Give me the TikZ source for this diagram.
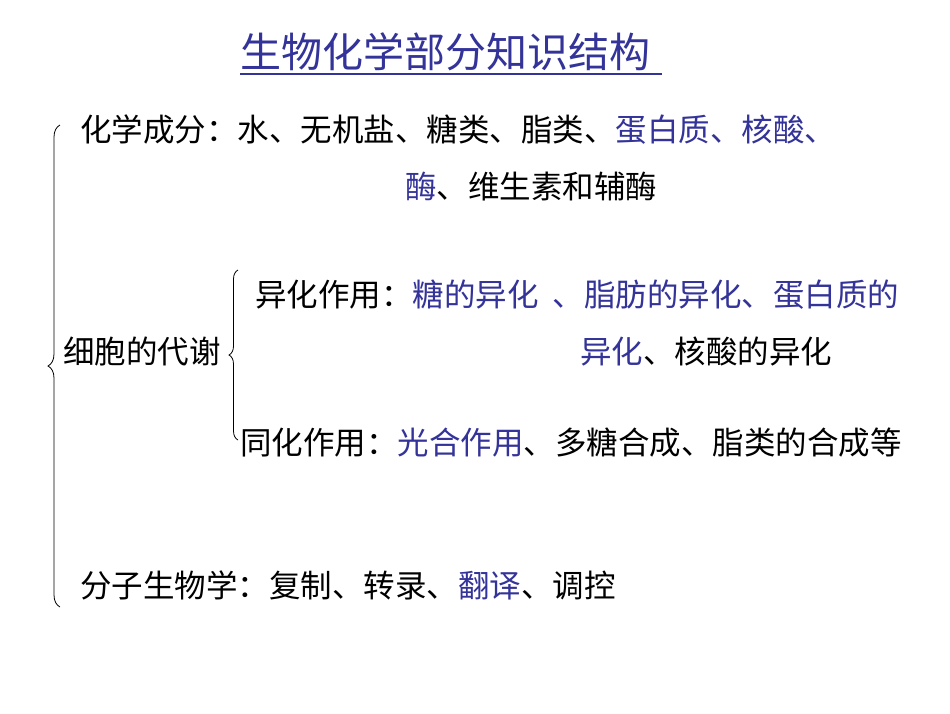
\documentclass[tikz,border=0pt]{standalone}
\usepackage{fontspec}
\newfontfamily\cjk{Noto Sans CJK SC}
\usetikzlibrary{decorations.pathreplacing}
\definecolor{bl}{RGB}{51,51,153}
\begin{document}
\begin{tikzpicture}[x=1pt,y=-1pt,
  txt/.style={anchor=west,inner sep=0pt,font=\cjk\fontsize{31.5}{36}\selectfont},
  brc/.style={decorate,decoration={brace,amplitude=9pt},line width=0.8pt}]
\fill[white] (0,0) rectangle (950,713);
\useasboundingbox (0,0) rectangle (950,713);
\node[txt,font=\cjk\fontsize{41}{46}\selectfont,text=bl] (title) at (240,52) {生物化学部分知识结构};
\draw[bl,line width=1.2pt] (240,74) -- (662,74);
\node[txt] (l1) at (80,130) {化学成分：水、无机盐、糖类、脂类、\textcolor{bl}{蛋白质、核酸、}};
\node[txt] (l2) at (405,187) {\textcolor{bl}{酶}、维生素和辅酶};
\node[txt] (m) at (63,352) {细胞的代谢};
\node[txt] (a1) at (255,295) {异化作用：\textcolor{bl}{糖的异化\hspace{14pt}、脂肪的异化、蛋白质的}};
\node[txt] (a2) at (580,352) {\textcolor{bl}{异化}、核酸的异化};
\node[txt] (b1) at (240,443) {同化作用：\textcolor{bl}{光合作用}、多糖合成、脂类的合成等};
\node[txt] (c1) at (80,585) {分子生物学：复制、转录、\textcolor{bl}{翻译}、调控};
\draw[brc,decoration={amplitude=12pt}] (60,607) -- (60,125);
\draw[brc] (238,440) -- (238,270);
\end{tikzpicture}
\end{document}
